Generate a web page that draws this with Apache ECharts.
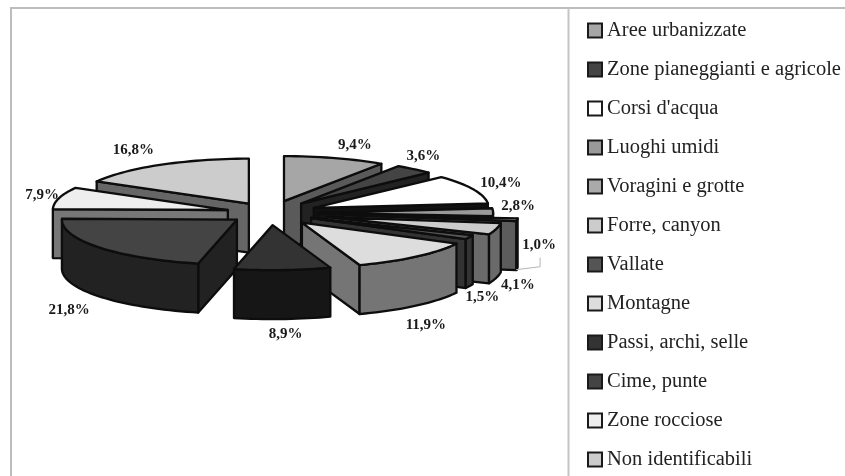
<!DOCTYPE html>
<html><head><meta charset="utf-8">
<style>html,body{margin:0;padding:0;background:#fff}#c{width:845px;height:476px}</style>
<script src="https://cdn.jsdelivr.net/npm/echarts@6/dist/echarts.min.js"></script>
</head><body><div id="c"></div>
<script>
const categories = ['Aree urbanizzate','Zone pianeggianti e agricole',"Corsi d'acqua",'Luoghi umidi','Voragini e grotte','Forre, canyon','Vallate','Montagne','Passi, archi, selle','Cime, punte','Zone rocciose','Non identificabili'];
const shares = [9.4,3.6,10.4,2.8,1.0,4.1,1.5,11.9,8.9,21.8,7.9,16.8];
const explode = [.275,.275,.275,.275,.42,.34,.26,.28,.27,.24,.25,.24];
const topColors = ['#a6a6a6','#444444','#ffffff','#999999','#aaaaaa','#cccccc','#555555','#dddddd','#333333','#444444','#eeeeee','#cccccc'];
const wallColors = ['#5a5a5a','#222222','#111111','#111111','#5c5c5c','#6a6a6a','#333333','#757575','#161616','#222222','#777777','#666666'];
const labelShift = [[20,-13],[9,-13],[28,-6],[25,-6],[22,25],[21.5,56],[13,60],[10,68],[3,64],[-30,63],[-17,-3],[-27.5,-15]];

const CX = 270, CY = 213, RX = 175, RY = 45, DEPTH = 49;
const EDGE = '#0d0d0d';
const total = shares.reduce((a,b)=>a+b,0);
const rad = d => d*Math.PI/180;
let acc = 0;
const geo = shares.map((v,i)=>{
  const a0 = acc/total*360; acc += v; const a1 = acc/total*360; const m=(a0+a1)/2;
  const ox = CX + explode[i]*RX*Math.sin(rad(m));
  const oy = CY - explode[i]*RY*Math.cos(rad(m));
  return {a0,a1,m,ox,oy};
});
const order = shares.map((_,i)=>i).sort((a,b)=>
  (-Math.cos(rad(geo[a].m))*(1+explode[a])) - (-Math.cos(rad(geo[b].m))*(1+explode[b])));
const arcPts = (g,from,to,dy) => {
  const n = Math.max(2,Math.ceil((to-from)/2)), p=[];
  for(let k=0;k<=n;k++){const t=from+(to-from)*k/n;
    p.push([g.ox+RX*Math.sin(rad(t)), g.oy-RY*Math.cos(rad(t))+(dy||0)]);}
  return p;
};
const poly = (points,fill,z2) => ({type:'polygon',z2,shape:{points},
  style:{fill,stroke:EDGE,lineWidth:2.3,lineJoin:'round'}});

function makeRender(i, rank){
  return function(params, api){
    const g = geo[i], kids = [], base = rank*10;
    const wall = wallColors[i];
    const val = api.value(0);
    if (Math.sin(rad(g.a0)) < -1e-3) {
      const e = arcPts(g,g.a0,g.a0+0.001)[0];
      kids.push(poly([[g.ox,g.oy],e,[e[0],e[1]+DEPTH],[g.ox,g.oy+DEPTH]],wall,base+1));
    }
    if (Math.sin(rad(g.a1)) > 1e-3) {
      const e = arcPts(g,g.a1,g.a1+0.001)[0];
      kids.push(poly([[g.ox,g.oy],e,[e[0],e[1]+DEPTH],[g.ox,g.oy+DEPTH]],wall,base+2));
    }
    const f = Math.max(g.a0,90), t = Math.min(g.a1,270);
    if (t > f) {
      const up = arcPts(g,f,t,0), dn = arcPts(g,f,t,DEPTH).reverse();
      kids.push(poly(up.concat(dn),wall,base+3));
    }
    kids.push(poly([[g.ox,g.oy]].concat(arcPts(g,g.a0,g.a1,0)),topColors[i],base+4));
    const mx = g.ox+RX*Math.sin(rad(g.m)), my = g.oy-RY*Math.cos(rad(g.m));
    const lx = mx+labelShift[i][0], ly = my+labelShift[i][1];
    kids.push({type:'text',z2:1000,style:{x:lx,y:ly,text:val.toFixed(1).replace('.',',')+'%',
      fill:'#1a1a1a',font:'bold 15px "Liberation Serif"',align:'center',verticalAlign:'middle'}});
    if (categories[i]==='Voragini e grotte') {
      kids.push({type:'polyline',z2:999,shape:{points:[[lx-23,ly+25],[lx+1,ly+22],[lx+1,ly+13]]},
        style:{stroke:'#b5b5b5',lineWidth:1,fill:null}});
    }
    return {type:'group',children:kids};
  };
}

const chart = echarts.init(document.getElementById('c'),null,{renderer:'canvas'});
chart.setOption({
  backgroundColor:'#fff',
  animation:false,
  graphic:[
    {type:'polyline',silent:true,shape:{points:[[11,476],[11,8],[845,8]]},style:{stroke:'#bdbdbd',lineWidth:2,fill:null}},
    {type:'line',silent:true,shape:{x1:568.5,y1:8,x2:568.5,y2:476},style:{stroke:'#c4c4c4',lineWidth:2}}
  ],
  legend:{
    orient:'vertical',left:582,top:15,height:460,padding:[5,0,0,5],itemWidth:14,itemHeight:14,itemGap:18,
    selectedMode:false,icon:'rect',data:categories,
    textStyle:{fontFamily:'Liberation Serif',fontSize:20.5,color:'#222'}
  },
  series: order.map((i,rank)=>({
    type:'custom',name:categories[i],coordinateSystem:'none',silent:true,
    itemStyle:{color:topColors[i],borderColor:'#1a1a1a',borderWidth:2.4},
    renderItem:makeRender(i,rank),
    data:[[shares[i]]]
  }))
});
</script></body></html>
